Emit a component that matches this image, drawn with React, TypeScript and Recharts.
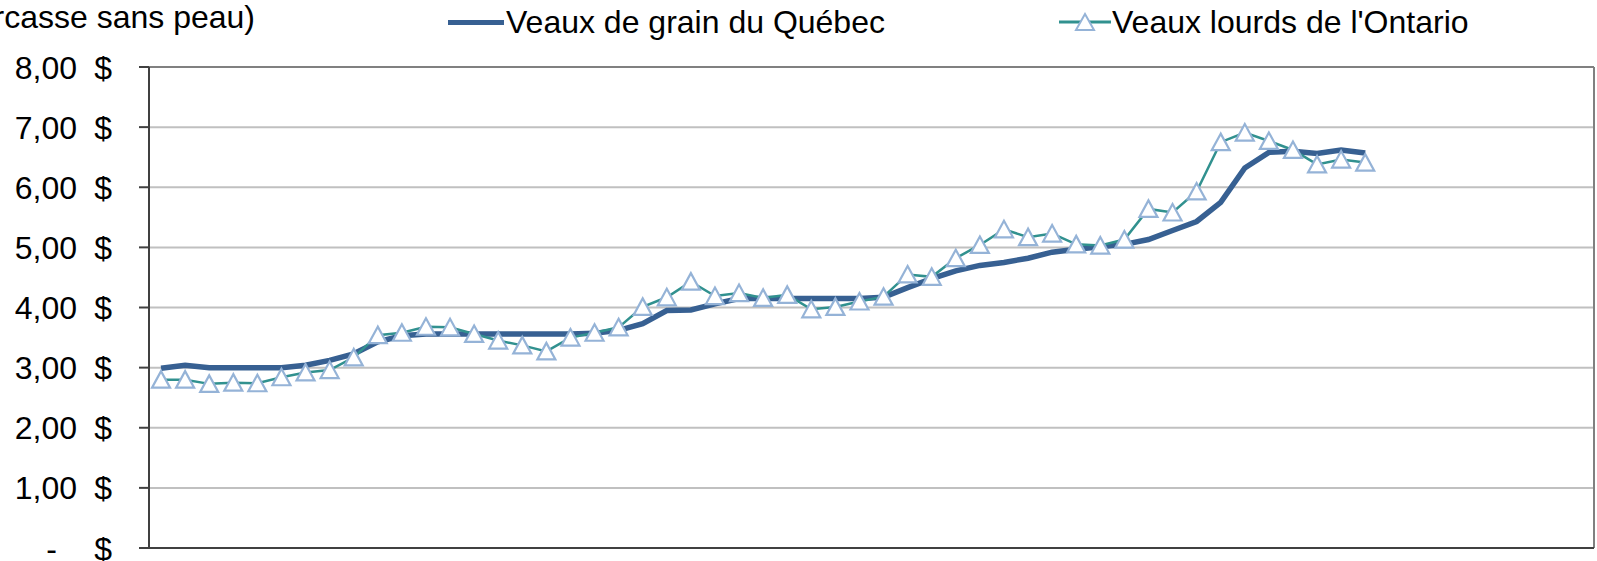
import { LineChart, Line, XAxis, YAxis, CartesianGrid, ReferenceLine } from 'recharts'

// ─── Données ────────────────────────────────────────────────────────────────
const annees = ['Année 1', 'Année 2', 'Année 3', 'Année 4', 'Année 5']
const moisNoms = ['janv.', 'févr.', 'mars', 'avr.', 'mai', 'juin', 'juil.', 'août', 'sept.', 'oct.', 'nov.', 'déc.']

// $/kg carcasse, prix mensuels
const quebec = [
  2.99, 3.04, 3.00, 3.00, 3.00, 3.00, 3.04, 3.12, 3.23, 3.43, 3.53, 3.56,
  3.56, 3.56, 3.56, 3.56, 3.56, 3.56, 3.57, 3.62, 3.73, 3.95, 3.96, 4.06,
  4.15, 4.15, 4.15, 4.15, 4.15, 4.15, 4.17, 4.33, 4.48, 4.61, 4.70, 4.75,
  4.82, 4.92, 4.97, 5.01, 5.05, 5.13, 5.28, 5.43, 5.75, 6.32, 6.58, 6.60,
  6.56, 6.62, 6.57,
]
const ontario = [
  2.80, 2.80, 2.73, 2.75, 2.74, 2.84, 2.92, 2.96, 3.17, 3.54, 3.58, 3.68,
  3.67, 3.56, 3.45, 3.37, 3.27, 3.50, 3.58, 3.67, 4.01, 4.17, 4.43, 4.19,
  4.24, 4.16, 4.21, 3.97, 4.01, 4.10, 4.18, 4.55, 4.51, 4.82, 5.04, 5.30,
  5.17, 5.23, 5.05, 5.03, 5.13, 5.64, 5.58, 5.93, 6.75, 6.91, 6.77, 6.62,
  6.38, 6.46, 6.41,
]
const yTicks = [0, 1, 2, 3, 4, 5, 6, 7, 8]

const mois = annees.flatMap(a => moisNoms.map(m => `${m} ${a}`))
const data = mois.map((m, i) => ({ idx: i, mois: m, quebec: quebec[i], ontario: ontario[i] }))
// lignes verticales entre les années
const separations = annees.slice(1).map((_, k) => (k + 1) * 12 - 0.5)

const BLEU = '#376092'
const SARCELLE = '#31918F'
const TRIANGLE = '#95B3D7'
const FONT = '"Liberation Sans", Arial, sans-serif'
const FS = 32

function Triangle({ cx, cy, value }: any) {
  if (value == null || cx == null) return null
  return (
    <polygon
      points={`${cx},${cy - 8.5} ${cx - 9},${cy + 8} ${cx + 9},${cy + 8}`}
      fill="#fff"
      stroke={TRIANGLE}
      strokeWidth={2.2}
    />
  )
}

function YTick({ x, y, payload }: any) {
  const v = payload.value as number
  const num = v === 0 ? '-' : v.toFixed(2).replace('.', ',')
  return (
    <g fontFamily={FONT} fontSize={FS} fill="#000">
      <text x={v === 0 ? x - 80 : x - 60} y={y} dy="0.36em" textAnchor="end">{num}</text>
      <text x={x - 25} y={y} dy="0.36em" textAnchor="end">$</text>
    </g>
  )
}

export default function App() {
  return (
    <div style={{ position: 'absolute', left: 0, top: 0, width: 1597, height: 561, overflow: 'hidden', background: '#fff', fontFamily: FONT }}>
      <div style={{ position: 'absolute', right: 1597 - 255, top: -2, whiteSpace: 'nowrap', fontSize: FS, lineHeight: '38px' }}>
        ($/kg carcasse sans peau)
      </div>

      {/* légende */}
      <div style={{ position: 'absolute', left: 448, top: 3, display: 'flex', alignItems: 'center', fontSize: FS, lineHeight: '38px' }}>
        <div style={{ width: 56, height: 5, background: BLEU, marginRight: 2 }} />
        <span>Veaux de grain du Québec</span>
      </div>
      <div style={{ position: 'absolute', left: 1059, top: 3, display: 'flex', alignItems: 'center', fontSize: FS, lineHeight: '38px' }}>
        <svg width={52} height={20} style={{ marginRight: 1 }}>
          <line x1={0} y1={10} x2={52} y2={10} stroke={SARCELLE} strokeWidth={3} />
          <polygon points="26,2 17,18 35,18" fill="#fff" stroke={TRIANGLE} strokeWidth={2} />
        </svg>
        <span>Veaux lourds de l'Ontario</span>
      </div>

      <div style={{ position: 'absolute', left: 0, top: 0 }}>
        <LineChart width={1597} height={561} data={data} margin={{ top: 67, right: 3, bottom: 0, left: 0 }}>
          <CartesianGrid stroke="#C0C0C0" strokeWidth={2} />
          <XAxis
            type="number"
            dataKey="idx"
            domain={[-0.5, 59.5]}
            ticks={separations}
            tick={false}
            tickLine={false}
            axisLine={{ stroke: '#404040', strokeWidth: 2 }}
            height={13}
          />
          <YAxis
            domain={[0, 8]}
            ticks={yTicks}
            width={149}
            tickSize={10}
            tickLine={{ stroke: '#404040', strokeWidth: 2 }}
            axisLine={{ stroke: '#404040', strokeWidth: 2 }}
            tick={<YTick />}
            interval={0}
          />
          <ReferenceLine y={8} stroke="#808080" strokeWidth={2} />
          <ReferenceLine x={59.5} stroke="#808080" strokeWidth={2} />
          <Line
            dataKey="quebec"
            name="Veaux de grain du Québec"
            stroke={BLEU}
            strokeWidth={5.5}
            dot={false}
            isAnimationActive={false}
          />
          <Line
            dataKey="ontario"
            name="Veaux lourds de l'Ontario"
            stroke={SARCELLE}
            strokeWidth={2.5}
            dot={<Triangle />}
            isAnimationActive={false}
          />
        </LineChart>
      </div>
    </div>
  )
}
